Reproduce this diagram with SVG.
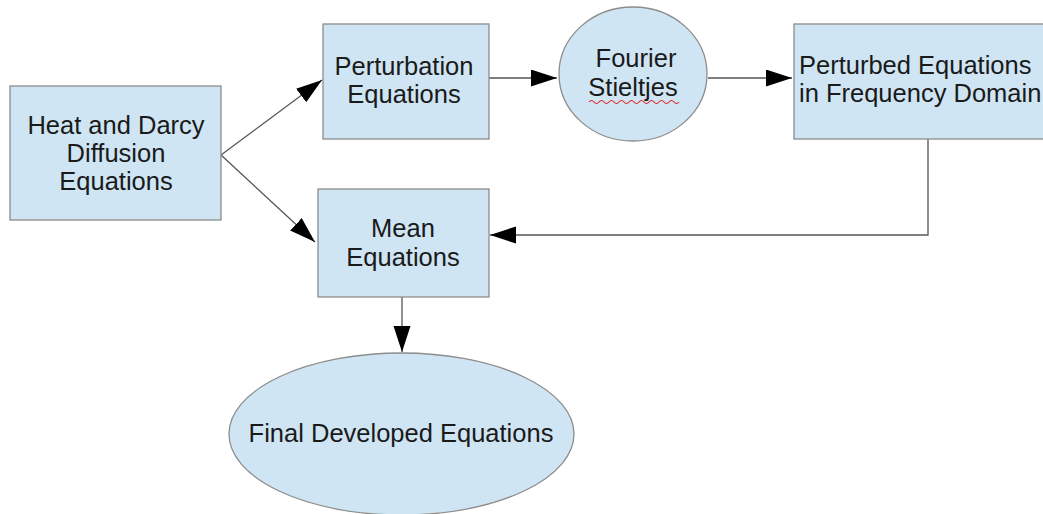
<svg xmlns="http://www.w3.org/2000/svg" width="1043" height="514" viewBox="0 0 1043 514">
<style>
.box{fill:#cfe5f3;stroke:#8c8c8c;stroke-width:1.3}
.t{font-family:"Liberation Sans",Arial,sans-serif;font-size:25.5px;fill:#1a1a1a}
.c{text-anchor:middle}
.ln{fill:none;stroke:#555;stroke-width:1.3}
</style>
<defs>
<marker id="ah" markerUnits="userSpaceOnUse" markerWidth="27" markerHeight="18" refX="26" refY="8.5" orient="auto">
<path d="M0,0 L26,8.5 L0,17 z" fill="#000"/>
</marker>
</defs>
<rect width="1043" height="514" fill="#fff"/>
<g id="connectors">
<line class="ln" x1="221" y1="155" x2="322" y2="80" marker-end="url(#ah)"/>
<line class="ln" x1="221" y1="155" x2="315" y2="242" marker-end="url(#ah)"/>
<line class="ln" x1="489" y1="78" x2="557" y2="78" marker-end="url(#ah)"/>
<line class="ln" x1="708" y1="78" x2="792" y2="78" marker-end="url(#ah)"/>
<polyline class="ln" points="928,139 928,235 490,235" marker-end="url(#ah)"/>
<line class="ln" x1="402" y1="297" x2="402" y2="352" marker-end="url(#ah)"/>
</g>
<g id="heat">
<rect class="box" x="10" y="86" width="211" height="134"/>
<text class="t c" x="116" y="134">Heat and Darcy</text>
<text class="t c" x="116" y="162">Diffusion</text>
<text class="t c" x="116" y="190">Equations</text>
</g>
<g id="perturbation">
<rect class="box" x="323" y="24" width="166" height="115"/>
<text class="t c" x="404" y="75">Perturbation</text>
<text class="t c" x="404" y="103">Equations</text>
</g>
<g id="fourier">
<ellipse class="box" cx="633" cy="74" rx="74" ry="67"/>
<text class="t c" x="636" y="67">Fourier</text>
<text class="t c" x="633" y="96">Stieltjes</text>
<path d="M589,102 q2.5,-3 5,0 t5,0 t5,0 t5,0 t5,0 t5,0 t5,0 t5,0 t5,0 t5,0 t5,0 t5,0 t5,0 t5,0 t5,0 t5,0 t5,0 t5,0" fill="none" stroke="#e02020" stroke-width="1.1"/>
</g>
<g id="perturbed">
<rect class="box" x="794" y="24" width="260" height="115"/>
<text class="t" x="799" y="74">Perturbed Equations</text>
<text class="t" x="799" y="102">in Frequency Domain</text>
</g>
<g id="mean">
<rect class="box" x="318" y="189" width="171" height="108"/>
<text class="t c" x="403" y="237">Mean</text>
<text class="t c" x="403" y="266">Equations</text>
</g>
<g id="final">
<ellipse class="box" cx="401.5" cy="434" rx="172.5" ry="81"/>
<text class="t c" x="401" y="442">Final Developed Equations</text>
</g>
</svg>
